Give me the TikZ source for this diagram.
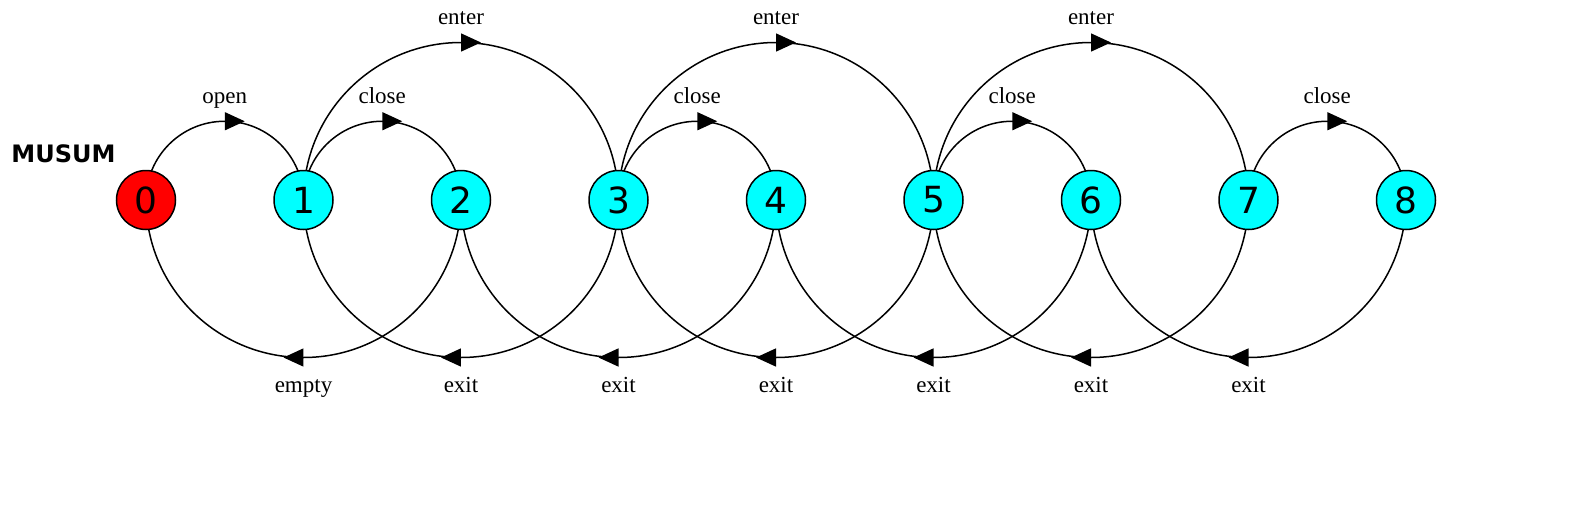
\documentclass[tikz,border=0pt]{standalone}
\usepackage{fontspec}
\setmainfont{Liberation Serif}
\newfontfamily\statefont{DejaVu Sans}
\newfontfamily\namefont{DejaVu Sans}
\usetikzlibrary{arrows.meta,calc,decorations.markings,backgrounds}
\definecolor{aqua}{RGB}{0,255,255}
\definecolor{start}{RGB}{255,0,0}

\begin{document}
\begin{tikzpicture}[x=0.5pt,y=0.5pt,
	state/.style={circle,draw,line width=0.75pt,fill=aqua,minimum size=29.5pt,inner sep=0pt,font=\statefont\fontsize{18}{18}\selectfont},
	init/.style={state,fill=start},
	trans/.style={line width=0.75pt,postaction={decorate},decoration={markings,mark=at position 0.5 with {\arrow[xshift=10pt]{Triangle[length=10pt,width=9pt]}}}},
	lbl/.style={anchor=base,inner sep=0pt,font=\fontsize{11.5}{13}\selectfont}]

	\useasboundingbox (0,200) rectangle (1592,-310);

	\node[anchor=base west,inner sep=0pt,font=\namefont\bfseries\fontsize{12}{12}\selectfont] (title) at (11,38) {MUSUM};

	\node[init] (s0) at (146,0) {0};
	\node[state] (s1) at (303.5,0) {1};
	\node[state] (s2) at (461,0) {2};
	\node[state] (s3) at (618.5,0) {3};
	\node[state] (s4) at (776,0) {4};
	\node[state] (s5) at (933.5,0) {5};
	\node[state] (s6) at (1091,0) {6};
	\node[state] (s7) at (1248.5,0) {7};
	\node[state] (s8) at (1406,0) {8};

	\begin{scope}[on background layer]
	\draw[trans] (s0.center) arc[start angle=180,end angle=0,radius=78.75]; %open
	\draw[trans] (s1.center) arc[start angle=180,end angle=0,radius=78.75]; %close
	\draw[trans] (s3.center) arc[start angle=180,end angle=0,radius=78.75]; %close
	\draw[trans] (s5.center) arc[start angle=180,end angle=0,radius=78.75]; %close
	\draw[trans] (s7.center) arc[start angle=180,end angle=0,radius=78.75]; %close
	\draw[trans] (s1.center) arc[start angle=180,end angle=0,radius=157.5]; %enter
	\draw[trans] (s3.center) arc[start angle=180,end angle=0,radius=157.5]; %enter
	\draw[trans] (s5.center) arc[start angle=180,end angle=0,radius=157.5]; %enter
	\draw[trans] (s2.center) arc[start angle=0,end angle=-180,radius=157.5]; %empty
	\draw[trans] (s3.center) arc[start angle=0,end angle=-180,radius=157.5]; %exit
	\draw[trans] (s4.center) arc[start angle=0,end angle=-180,radius=157.5]; %exit
	\draw[trans] (s5.center) arc[start angle=0,end angle=-180,radius=157.5]; %exit
	\draw[trans] (s6.center) arc[start angle=0,end angle=-180,radius=157.5]; %exit
	\draw[trans] (s7.center) arc[start angle=0,end angle=-180,radius=157.5]; %exit
	\draw[trans] (s8.center) arc[start angle=0,end angle=-180,radius=157.5]; %exit
	\end{scope}

	\node[lbl] (open) at ($(s0)!0.5!(s1)+(0,97)$) {open};
	\node[lbl] (close12) at ($(s1)!0.5!(s2)+(0,97)$) {close};
	\node[lbl] (close34) at ($(s3)!0.5!(s4)+(0,97)$) {close};
	\node[lbl] (close56) at ($(s5)!0.5!(s6)+(0,97)$) {close};
	\node[lbl] (close78) at ($(s7)!0.5!(s8)+(0,97)$) {close};
	\node[lbl] (enter13) at ($(s2)+(0,176)$) {enter};
	\node[lbl] (enter35) at ($(s4)+(0,176)$) {enter};
	\node[lbl] (enter57) at ($(s6)+(0,176)$) {enter};
	\node[lbl] (empty) at ($(s1)+(0,-192)$) {empty};
	\node[lbl] (exit31) at ($(s2)+(0,-192)$) {exit};
	\node[lbl] (exit42) at ($(s3)+(0,-192)$) {exit};
	\node[lbl] (exit53) at ($(s4)+(0,-192)$) {exit};
	\node[lbl] (exit64) at ($(s5)+(0,-192)$) {exit};
	\node[lbl] (exit75) at ($(s6)+(0,-192)$) {exit};
	\node[lbl] (exit86) at ($(s7)+(0,-192)$) {exit};

\end{tikzpicture}
\end{document}
